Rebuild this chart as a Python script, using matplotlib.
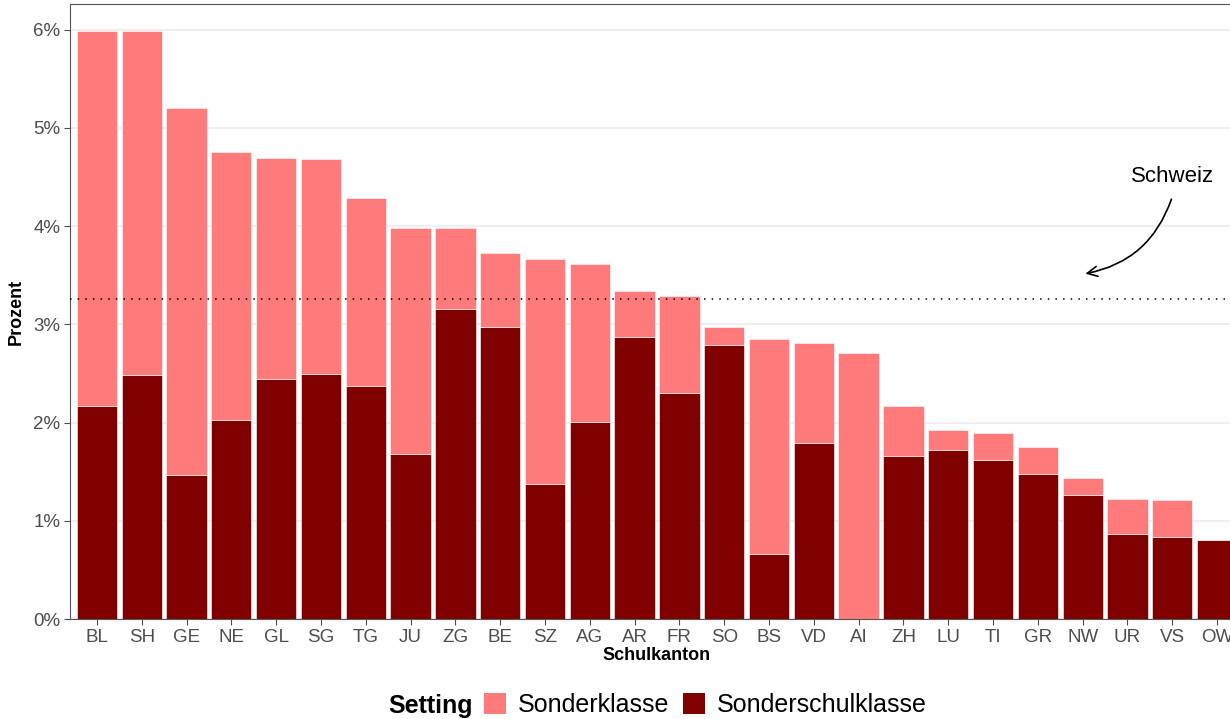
import numpy as np
import matplotlib
matplotlib.use("Agg")
import matplotlib.pyplot as plt
from matplotlib.patches import Patch
from matplotlib.ticker import FuncFormatter

plt.rcParams['font.family'] = ['Liberation Sans', 'DejaVu Sans']

# data (percent)
cantons = ['BL', 'SH', 'GE', 'NE', 'GL', 'SG', 'TG', 'JU', 'ZG', 'BE', 'SZ', 'AG', 'AR',
           'FR', 'SO', 'BS', 'VD', 'AI', 'ZH', 'LU', 'TI', 'GR', 'NW', 'UR', 'VS', 'OW']
sonderschulklasse = [2.17, 2.48, 1.47, 2.03, 2.44, 2.49, 2.37, 1.68, 3.16, 2.97, 1.37, 2.01, 2.87,
                     2.30, 2.79, 0.66, 1.79, 0.00, 1.66, 1.72, 1.62, 1.48, 1.26, 0.87, 0.83, 0.80]
sonderklasse = [3.82, 3.51, 3.73, 2.72, 2.25, 2.19, 1.92, 2.30, 0.82, 0.76, 2.29, 1.60, 0.47,
                0.99, 0.18, 2.19, 1.02, 2.71, 0.51, 0.20, 0.27, 0.27, 0.18, 0.35, 0.38, 0.00]
schweiz = 3.26

col_klasse = '#FF7A7A'
col_schul = '#800000'

fig = plt.figure(figsize=(12.3, 7.19), dpi=100)
ax = fig.add_axes([70 / 1230, 1 - 619 / 719, 1174 / 1230, 615 / 719])

x = np.arange(len(cantons))
ax.bar(x, sonderschulklasse, width=0.9, color=col_schul, edgecolor='white', linewidth=0.4, zorder=2)
ax.bar(x, sonderklasse, width=0.9, bottom=sonderschulklasse, color=col_klasse,
       edgecolor='white', linewidth=0.4, zorder=2)

ax.axhline(schweiz, color='black', linestyle=(0, (1, 4)), linewidth=1.1, zorder=3)

# annotation
ax.text(24.0, 4.50, 'Schweiz', ha='center', va='center', fontsize=16, color='black')
ax.annotate('', xy=(22.0, 3.51), xytext=(24.0, 4.30),
            arrowprops=dict(arrowstyle='->', color='black', lw=1.2,
                            connectionstyle='arc3,rad=-0.3', mutation_scale=18))

ax.set_xlim(-0.6, 25.6)
ax.set_ylim(0, 6.26)
ax.set_yticks([0, 1, 2, 3, 4, 5, 6])
ax.yaxis.set_major_formatter(FuncFormatter(lambda v, p: f'{v:.0f}%'))
ax.set_xticks(x)
ax.set_xticklabels(cantons)
ax.grid(axis='y', color='#EBEBEB', linewidth=1.1, zorder=0)
ax.set_axisbelow(True)
ax.tick_params(colors='#4D4D4D', labelsize=13.5, length=4, width=0.8, labelcolor='#4D4D4D', pad=3)
for s in ax.spines.values():
    s.set_color('#555555')
    s.set_linewidth(0.8)

ax.set_ylabel('Prozent', fontsize=13, fontweight='bold', labelpad=6)
ax.set_xlabel('Schulkanton', fontsize=13, fontweight='bold', labelpad=1)

# legend at bottom with title on the left
handles = [Patch(facecolor=col_klasse, edgecolor='none'), Patch(facecolor=col_schul, edgecolor='none')]
fig.text(431 / 1230, 1 - 706 / 719, 'Setting', ha='center', va='center', fontsize=18, fontweight='bold')
fig.legend(handles, ['Sonderklasse', 'Sonderschulklasse'], loc='center',
           bbox_to_anchor=(705 / 1230, 1 - 705 / 719), ncol=2, frameon=False, fontsize=18,
           handlelength=0.9, handleheight=0.9, handletextpad=0.45, columnspacing=0.55,
           borderpad=0.2)

fig.savefig('out.png', dpi=100)
